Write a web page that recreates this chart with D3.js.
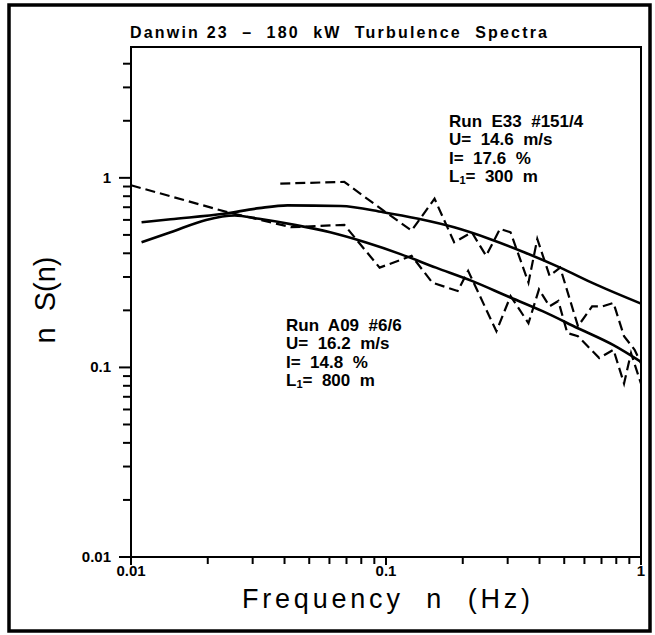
<!DOCTYPE html>
<html>
<head>
<meta charset="utf-8">
<script src="https://cdn.jsdelivr.net/npm/d3@7"></script>
<style>
  body { margin: 0; background: #fff; }
  text { font-family: "Liberation Sans", Arial, sans-serif; fill: #000; }
</style>
</head>
<body>
<svg id="chart" width="655" height="635"></svg>
<script>
// fitted spectra (solid) and measured spectra (dashed), [frequency Hz, nS(n)]
var fitE33 = [[0.011,0.583],[0.0143,0.605],[0.0231,0.646],[0.0318,0.692],[0.0411,0.716],[0.0664,0.71],
  [0.0975,0.659],[0.134,0.608],[0.185,0.548],[0.255,0.476],[0.35,0.404],[0.482,0.336],[0.664,0.274],[1,0.217]];
var fitA09 = [[0.011,0.457],[0.0143,0.516],[0.0197,0.6],[0.0255,0.633],[0.0318,0.608],[0.0438,0.565],
  [0.0604,0.516],[0.083,0.457],[0.114,0.396],[0.157,0.336],[0.217,0.286],[0.298,0.238],[0.411,0.198],
  [0.566,0.161],[0.78,0.131],[1,0.107]];
var dataE33 = [[0.0385,0.933],[0.0686,0.952],[0.0975,0.673],[0.126,0.527],[0.155,0.776],[0.185,0.457],
  [0.217,0.516],[0.247,0.388],[0.28,0.538],[0.308,0.516],[0.362,0.28],[0.392,0.476],[0.438,0.304],
  [0.482,0.336],[0.566,0.165],[0.643,0.21],[0.708,0.21],[0.78,0.219],[0.858,0.146],[0.944,0.124],[1,0.105]];
var dataA09 = [[0.01,0.914],[0.0239,0.659],[0.0425,0.549],[0.0686,0.565],[0.0944,0.336],[0.126,0.388],
  [0.152,0.28],[0.191,0.253],[0.21,0.323],[0.271,0.155],[0.308,0.238],[0.362,0.171],[0.398,0.258],
  [0.438,0.21],[0.474,0.224],[0.514,0.152],[0.566,0.146],[0.686,0.112],[0.78,0.124],[0.858,0.0822],
  [0.914,0.119],[1,0.0822]];

var xMajor = [0.01, 0.1, 1];
var xMajorLabels = ["0.01", "0.1", "1"];
var yMajor = [0.01, 0.1, 1];
var yMajorLabels = ["0.01", "0.1", "1"];
var yTop = 4.9;

var titleText = "Danwin 23  \u2013  180  kW  Turbulence  Spectra";
var runE33 = ["Run  E33  #151/4", "U=  14.6  m/s", "I=  17.6  %", ["L", "1", "=  300  m"]];
var runA09 = ["Run  A09  #6/6", "U=  16.2  m/s", "I=  14.8  %", ["L", "1", "=  800  m"]];

var svg = d3.select("#chart");
var x = d3.scaleLog().domain([0.01, 1]).range([131, 641]);
var y = d3.scaleLog().domain([0.01, yTop]).range([557, 47]);

function minors(lo, hi) {
	var out = [];
	for (var d = lo; d < hi; d *= 10)
		for (var k = 2; k <= 9; k++) out.push(d * k);
	return out;
}
var xMinor = minors(0.01, 1);
var yMinor = minors(0.01, 1).concat([2, 3, 4]);

// outer frame
svg.append("rect")
   .attr("x", 9).attr("y", 5)
   .attr("width", 641).attr("height", 626)
   .attr("fill", "none").attr("stroke", "#000").attr("stroke-width", 3.5);

// plot box
svg.append("rect")
   .attr("x", x.range()[0]).attr("y", y.range()[1])
   .attr("width", x.range()[1] - x.range()[0])
   .attr("height", y.range()[0] - y.range()[1])
   .attr("fill", "none").attr("stroke", "#000").attr("stroke-width", 2);

var xAxis = svg.append("g").attr("transform", "translate(0," + y(0.01) + ")");
xAxis.selectAll(".maj").data(xMajor).enter().append("line")
     .attr("x1", d=>x(d)).attr("x2", d=>x(d)).attr("y1", 0).attr("y2", 8)
     .attr("stroke", "#000").attr("stroke-width", 2);
xAxis.selectAll(".min").data(xMinor).enter().append("line")
     .attr("x1", d=>x(d)).attr("x2", d=>x(d)).attr("y1", 0).attr("y2", 7)
     .attr("stroke", "#000").attr("stroke-width", 2);
xAxis.selectAll("text").data(xMajor).enter().append("text")
     .attr("x", d=>x(d)).attr("y", 19)
     .attr("text-anchor", "middle").attr("font-size", 15).attr("font-weight", "bold")
     .text((d,i)=>xMajorLabels[i]);

var yAxis = svg.append("g").attr("transform", "translate(" + x(0.01) + ",0)");
yAxis.selectAll(".maj").data(yMajor).enter().append("line")
     .attr("x1", -12).attr("x2", 0).attr("y1", d=>y(d)).attr("y2", d=>y(d))
     .attr("stroke", "#000").attr("stroke-width", 2);
yAxis.selectAll(".min").data(yMinor).enter().append("line")
     .attr("x1", -8).attr("x2", 0).attr("y1", d=>y(d)).attr("y2", d=>y(d))
     .attr("stroke", "#000").attr("stroke-width", 2);
yAxis.selectAll("text").data(yMajor).enter().append("text")
     .attr("x", -20).attr("y", d=>y(d) + 5)
     .attr("text-anchor", "end").attr("font-size", 15).attr("font-weight", "bold")
     .text((d,i)=>yMajorLabels[i]);

// curves
var line = d3.line().x(d=>x(d[0])).y(d=>y(d[1]));
var smooth = d3.line().x(d=>x(d[0])).y(d=>y(d[1])).curve(d3.curveMonotoneX);

[fitE33, fitA09].forEach(function(s) {
	svg.append("path").datum(s).attr("d", smooth)
	   .attr("fill", "none").attr("stroke", "#000").attr("stroke-width", 2.6);
});
[dataE33, dataA09].forEach(function(s) {
	svg.append("path").datum(s).attr("d", line)
	   .attr("fill", "none").attr("stroke", "#000").attr("stroke-width", 2.2)
	   .attr("stroke-dasharray", "10,5");
});

// texts
svg.append("text").attr("x", 130).attr("y", 38)
   .attr("font-size", 16).attr("font-weight", "bold")
   .attr("xml:space", "preserve")
   .attr("textLength", 417).attr("lengthAdjust", "spacing")
   .text(titleText);

svg.append("text")
   .attr("transform", "translate(55,300) rotate(-90)")
   .attr("text-anchor", "middle").attr("font-size", 29)
   .attr("xml:space", "preserve")
   .text("n  S(n)");

svg.append("text").attr("x", 242).attr("y", 608)
   .attr("font-size", 27)
   .attr("xml:space", "preserve")
   .attr("textLength", 288).attr("lengthAdjust", "spacing")
   .text("Frequency  n  (Hz)");

function block(lines, x0, y0, widths) {
	lines.forEach(function(t, i) {
		var el = svg.append("text").attr("x", x0).attr("y", y0 + i * 18.3)
		            .attr("font-size", 17).attr("font-weight", "bold")
		            .attr("xml:space", "preserve");
		if (typeof t == "string") {
			el.text(t);
		} else {
			el.append("tspan").text(t[0]);
			el.append("tspan").attr("font-size", 11).attr("dy", 2).text(t[1]);
			el.append("tspan").attr("dy", -2).text(t[2]);
		}
	});
}
block(runE33, 449, 127);
block(runA09, 286, 331);
</script>
</body>
</html>
